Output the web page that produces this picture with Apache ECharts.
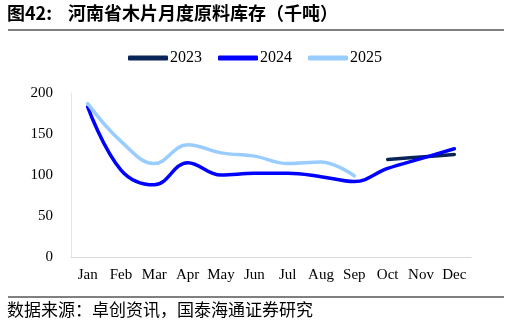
<!DOCTYPE html>
<html><head><meta charset="utf-8">
<script src="https://cdn.jsdelivr.net/npm/echarts@6/dist/echarts.min.js"></script>
<style>html,body{margin:0;padding:0;background:#fff}#c{width:510px;height:325px}</style>
</head><body><div id="c"></div>
<script>
const months = ['Jan','Feb','Mar','Apr','May','Jun','Jul','Aug','Sep','Oct','Nov','Dec'];
const s2023 = [null,null,null,null,null,null,null,null,null,119,122,125];
const s2024 = [183,106,88,115,100,102,102,98,92,108,120,132];
const s2025 = [187,141,114,137,127,123,114,116,99,null,null,null];
const yTicks = [0,50,100,150,200];
const titleHead = '图42:';
const titleBody = '河南省木片月度原料库存（千吨）';
const source = '数据来源：卓创资讯，国泰海通证券研究';

const chart = echarts.init(document.getElementById('c'));
const serif = '"Liberation Serif","Times New Roman",serif';
const cjk = '"Noto Sans CJK SC",sans-serif';
function line(name, data, color){
  return {name, type:'line', data, smooth:0.4, symbol:'none', connectNulls:false,
    lineStyle:{width:3.5, color, cap:'round'}, itemStyle:{color}};
}
chart.setOption({
  animation:false,
  graphic:[
    {type:'text', left:7, top:4, style:{text:titleHead, font:'bold 18px '+cjk, fill:'#000'}},
    {type:'text', left:68, top:4, style:{text:titleBody, font:'bold 18px '+cjk, fill:'#000'}},
    {type:'line', shape:{x1:8,y1:30,x2:504,y2:30}, style:{stroke:'#000', lineWidth:1}},
    {type:'line', shape:{x1:8,y1:297,x2:504,y2:297}, style:{stroke:'#000', lineWidth:1}},
    {type:'text', left:7, top:301, style:{text:source, font:'17px '+cjk, fill:'#000'}}
  ],
  legend:{top:45, left:'center', itemWidth:40, itemHeight:5, itemGap:16, icon:'roundRect',
    textStyle:{fontFamily:serif, fontSize:16, color:'#000', padding:[0,0,0,-3]},
    data:['2023','2024','2025']},
  grid:{left:71, right:39, top:93, bottom:68},
  xAxis:{type:'category', data:months, boundaryGap:true,
    axisLine:{lineStyle:{color:'#d9d9d9'}}, axisTick:{show:false},
    axisLabel:{fontFamily:serif, fontSize:15, color:'#000', margin:11, interval:0}},
  yAxis:{type:'value', min:yTicks[0], max:yTicks[yTicks.length-1], interval:50,
    splitLine:{show:false}, axisLine:{show:true, lineStyle:{color:'#e6e6e6'}}, axisTick:{show:false},
    axisLabel:{fontFamily:serif, fontSize:15, color:'#000', margin:18}},
  series:[line('2023', s2023, '#0a2458'), line('2024', s2024, '#0000ff'), line('2025', s2025, '#99ccff')]
});
</script></body></html>
